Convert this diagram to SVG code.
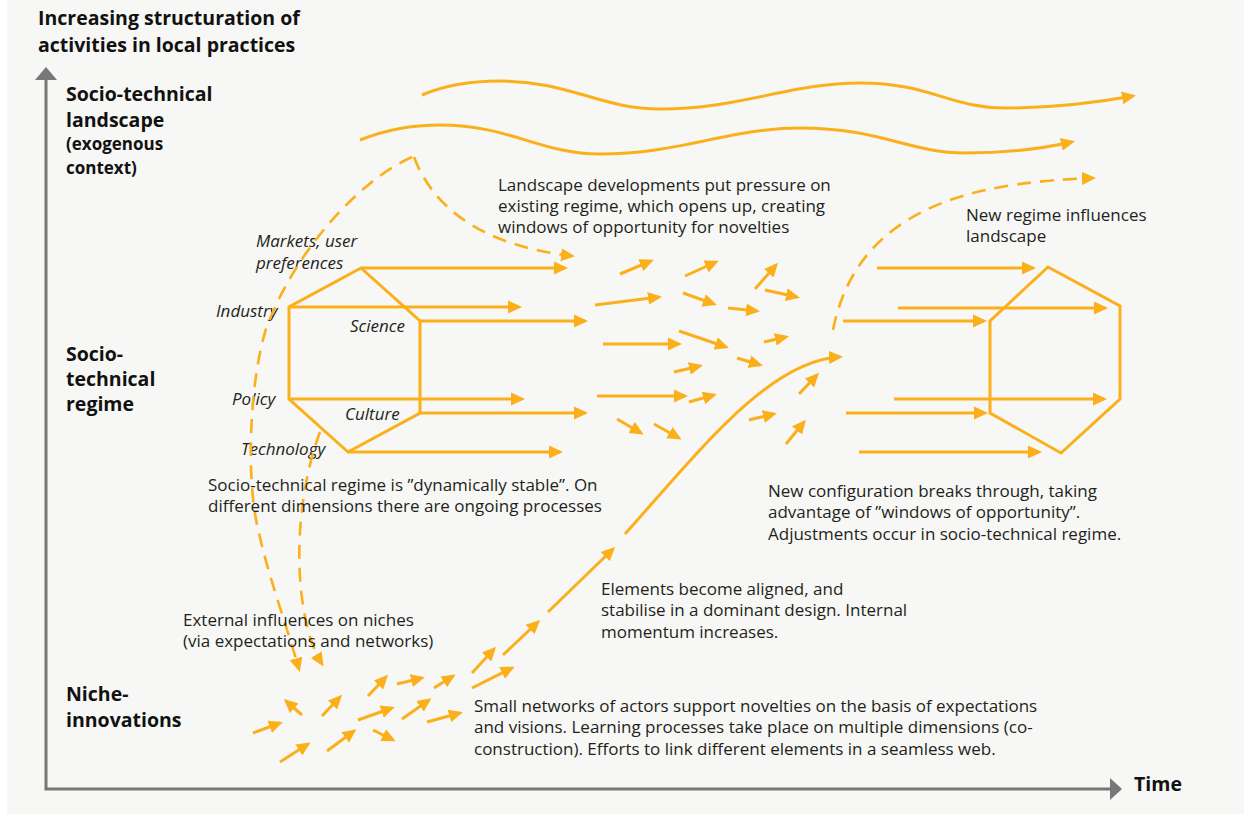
<svg xmlns="http://www.w3.org/2000/svg" width="1244" height="815" viewBox="0 0 1244 815">
<style>
.t{font-family:"Open Sans","Liberation Sans",sans-serif;font-size:17px;fill:#231f20}
.h{font-family:"Open Sans","Liberation Sans",sans-serif;font-weight:bold;font-size:19.5px;fill:#111}
.hs{font-family:"Open Sans","Liberation Sans",sans-serif;font-weight:bold;font-size:17px;fill:#111}
.i{font-family:"Open Sans","Liberation Sans",sans-serif;font-style:italic;font-size:17px;fill:#231f20}
.o{fill:none;stroke:#fbb01b;stroke-width:3;marker-end:url(#ah)}
.d{fill:none;stroke:#fbb01b;stroke-width:2.6;stroke-dasharray:14 9;marker-end:url(#ah)}
.hex{fill:none;stroke:#fbb01b;stroke-width:3;stroke-linejoin:miter}
.ax{fill:none;stroke:#777;stroke-width:3}
</style>
<defs>
<marker id="ah" viewBox="0 0 14 14" markerWidth="14" markerHeight="14" refX="11" refY="7" orient="auto" markerUnits="userSpaceOnUse">
<path d="M0,0.5 L14,7 L0,13.5 z" fill="#fbb01b"/>
</marker>
</defs>
<rect x="0" y="0" width="1244" height="815" fill="#ffffff"/>
<rect x="7" y="0" width="1237" height="814" fill="#f7f7f5"/>

<g id="axes">
<path class="ax" d="M46,78 L46,789 L1111,789"/>
<polygon points="46,67 35,80 57,80" fill="#777"/>
<polygon points="1122,789 1110,778 1110,800" fill="#777"/>
<text class="h" x="38" y="25">Increasing structuration of</text>
<text class="h" x="38" y="52">activities in local practices</text>
<text class="h" x="1134" y="791">Time</text>
</g>

<g id="level-labels">
<text class="h" x="66" y="101">Socio-technical</text>
<text class="h" x="66" y="127">landscape</text>
<text class="hs" x="66" y="150">(exogenous</text>
<text class="hs" x="66" y="174">context)</text>
<text class="h" x="66" y="361">Socio-</text>
<text class="h" x="66" y="386">technical</text>
<text class="h" x="66" y="411">regime</text>
<text class="h" x="66" y="701">Niche-</text>
<text class="h" x="66" y="727">innovations</text>
</g>

<g id="landscape">
<path class="o" d="M422,95 C445,85 470,81 500,81 C570,81 600,109 660,109 C740,109 790,83 860,83 C930,83 950,108 1005,108 C1060,108 1100,102 1133,96"/>
<path class="o" d="M360,140 C385,130 410,125 440,125 C510,125 540,154 600,154 C680,154 730,128 800,128 C880,128 910,153 965,153 C1010,153 1045,148 1072,142"/>
</g>

<g id="old-regime">
<polygon class="hex" points="361,268 289,307 289,399 348,452 420,413 420,321"/>
<g>
<line class="o" x1="361" y1="268" x2="565" y2="268"/>
<line class="o" x1="289" y1="307" x2="519" y2="307"/>
<line class="o" x1="420" y1="321" x2="585" y2="321"/>
<line class="o" x1="289" y1="399" x2="522" y2="399"/>
<line class="o" x1="420" y1="413" x2="585" y2="413"/>
<line class="o" x1="348" y1="452" x2="560" y2="452"/>
</g>
<text class="i" x="256" y="247">Markets, user</text>
<text class="i" x="256" y="269">preferences</text>
<text class="i" x="216" y="317">Industry</text>
<text class="i" x="350" y="332">Science</text>
<text class="i" x="232" y="405">Policy</text>
<text class="i" x="345" y="420">Culture</text>
<text class="i" x="241" y="455">Technology</text>
</g>

<g id="new-regime">
<polygon class="hex" points="1048,267 1120,306 1120,399 1061,453 990,413 990,321"/>
<line class="o" x1="877" y1="268" x2="1033" y2="268"/>
<line class="o" x1="898" y1="308" x2="1105" y2="308"/>
<line class="o" x1="843" y1="321" x2="984" y2="321"/>
<line class="o" x1="894" y1="399" x2="1104" y2="399"/>
<line class="o" x1="846" y1="413" x2="985" y2="413"/>
<line class="o" x1="859" y1="452" x2="1039" y2="452"/>
</g>

<g id="connectors">
<path class="d" d="M412,157 C360,180 295,250 266,329 C250,380 245,480 259,533 C268,575 288,630 299,669"/>
<path class="d" d="M414,157 C432,205 478,245 572,256"/>
<path class="d" d="M320,432 C302,480 296,540 301,590 C305,625 312,648 322,664"/>
<path class="d" d="M833,330 C845,270 880,225 950,200 C990,186 1040,180 1093,178"/>
<path class="o" d="M625,534 C700,450 770,360 840,357"/>
<g id="window-arrows">
<line class="o" x1="620" y1="274" x2="651" y2="261"/>
<line class="o" x1="685" y1="276" x2="716" y2="262"/>
<line class="o" x1="755" y1="289" x2="776" y2="265"/>
<line class="o" x1="595" y1="305" x2="659" y2="297"/>
<line class="o" x1="683" y1="293" x2="714" y2="304"/>
<line class="o" x1="728" y1="308" x2="757" y2="311"/>
<line class="o" x1="765" y1="290" x2="797" y2="297"/>
<line class="o" x1="603" y1="344" x2="679" y2="344"/>
<line class="o" x1="679" y1="331" x2="726" y2="347"/>
<line class="o" x1="764" y1="342" x2="786" y2="337"/>
<line class="o" x1="674" y1="372" x2="700" y2="366"/>
<line class="o" x1="737" y1="358" x2="760" y2="365"/>
<line class="o" x1="597" y1="396" x2="685" y2="396"/>
<line class="o" x1="689" y1="402" x2="714" y2="395"/>
<line class="o" x1="799" y1="394" x2="817" y2="375"/>
<line class="o" x1="617" y1="419" x2="641" y2="433"/>
<line class="o" x1="654" y1="424" x2="679" y2="438"/>
<line class="o" x1="749" y1="420" x2="774" y2="414"/>
<line class="o" x1="786" y1="444" x2="804" y2="422"/>
</g>
<g id="niche-arrows">
<line class="o" x1="253" y1="733" x2="280" y2="723"/>
<line class="o" x1="280" y1="762" x2="308" y2="744"/>
<line class="o" x1="302" y1="715" x2="286" y2="701"/>
<line class="o" x1="322" y1="716" x2="340" y2="697"/>
<line class="o" x1="327" y1="751" x2="354" y2="731"/>
<line class="o" x1="358" y1="720" x2="392" y2="708"/>
<line class="o" x1="373" y1="730" x2="393" y2="740"/>
<line class="o" x1="368" y1="696" x2="386" y2="677"/>
<line class="o" x1="397" y1="684" x2="422" y2="678"/>
<line class="o" x1="402" y1="719" x2="429" y2="700"/>
<line class="o" x1="434" y1="688" x2="453" y2="676"/>
<line class="o" x1="427" y1="722" x2="460" y2="713"/>
<line class="o" x1="472" y1="673" x2="494" y2="649"/>
<line class="o" x1="472" y1="688" x2="512" y2="668"/>
<line class="o" x1="503" y1="655" x2="538" y2="622"/>
<line class="o" x1="548" y1="612" x2="613" y2="549"/>
</g>
</g>

<g id="annotations">
<text class="t" x="498" y="191">Landscape developments put pressure on</text>
<text class="t" x="498" y="212">existing regime, which opens up, creating</text>
<text class="t" x="498" y="233">windows of opportunity for novelties</text>
<text class="t" x="966" y="221">New regime influences</text>
<text class="t" x="966" y="242">landscape</text>
<text class="t" x="208" y="491">Socio-technical regime is ”dynamically stable”. On</text>
<text class="t" x="208" y="512">different dimensions there are ongoing processes</text>
<text class="t" x="768" y="497">New configuration breaks through, taking</text>
<text class="t" x="768" y="518">advantage of ”windows of opportunity”.</text>
<text class="t" x="768" y="540">Adjustments occur in socio-technical regime.</text>
<text class="t" x="601" y="595">Elements become aligned, and</text>
<text class="t" x="601" y="616">stabilise in a dominant design. Internal</text>
<text class="t" x="601" y="638">momentum increases.</text>
<text class="t" x="183" y="626">External influences on niches</text>
<text class="t" x="183" y="647">(via expectations and networks)</text>
<text class="t" x="474" y="712">Small networks of actors support novelties on the basis of expectations</text>
<text class="t" x="474" y="733">and visions. Learning processes take place on multiple dimensions (co-</text>
<text class="t" x="474" y="755">construction). Efforts to link different elements in a seamless web.</text>
</g>
</svg>
